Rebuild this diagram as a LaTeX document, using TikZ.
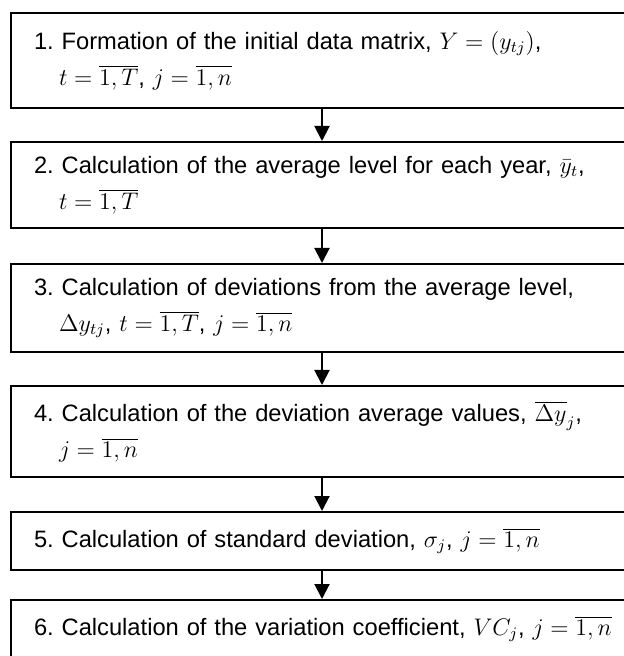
\documentclass[tikz,border=0pt]{standalone}
\usepackage{fontspec}
\setmainfont{Liberation Sans}
\usetikzlibrary{arrows.meta}
\frenchspacing
\tikzset{
    stagebox/.style={
        draw, line width=1pt, minimum width=311pt, minimum height=#1,
        text width=288pt, inner xsep=11.5pt, inner ysep=0pt, align=left,
        font=\fontsize{11.85}{18}\selectfont
    },
    stagebox/.default=29pt,
    flow/.style={
        -{Triangle[length=7.5pt, width=7.5pt]}, line width=1pt
    }
}
\begin{document}
\begin{tikzpicture}[x=0.5pt, y=-0.5pt]
    \useasboundingbox (0,0) rectangle (624,656);
    \clip (0,0) rectangle (624,656);
    \node[stagebox=47.5pt] (s1) at (322,60.5) {\mbox{1. Formation of the initial data matrix, $Y=\bigl(y_{tj}\bigr)$,}\\
        \hspace*{12.5pt}$t=\overline{1,T}$, $j=\overline{1,n}$};
    \node[stagebox=43pt] (s2) at (322,185) {\mbox{2. Calculation of the average level for each year, $\bar{y}_t$,}\\
        \hspace*{12.5pt}$t=\overline{1,T}$};
    \node[stagebox=44pt] (s3) at (322,308) {\mbox{3. Calculation of deviations from the average level,}\\
        \hspace*{12.5pt}$\Delta y_{tj}$, $t=\overline{1,T}$, $j=\overline{1,n}$};
    \node[stagebox=45.5pt] (s4) at (322,431.5) {\mbox{4. Calculation of the deviation average values, $\overline{\Delta y}_j$,}\\
        \hspace*{12.5pt}$j=\overline{1,n}$};
    \node[stagebox] (s5) at (322,541) {\mbox{5. Calculation of standard deviation, $\sigma_j$, $j=\overline{1,n}$}};
    \node[stagebox] (s6) at (322,629) {\mbox{6. Calculation of the variation coefficient, $VC_j$, $j=\overline{1,n}$}};
    % arrows between the stages
    \foreach \a/\b in {s1/s2, s2/s3, s3/s4, s4/s5, s5/s6}
        \draw[flow] (\a) -- (\b);
\end{tikzpicture}
\end{document}
